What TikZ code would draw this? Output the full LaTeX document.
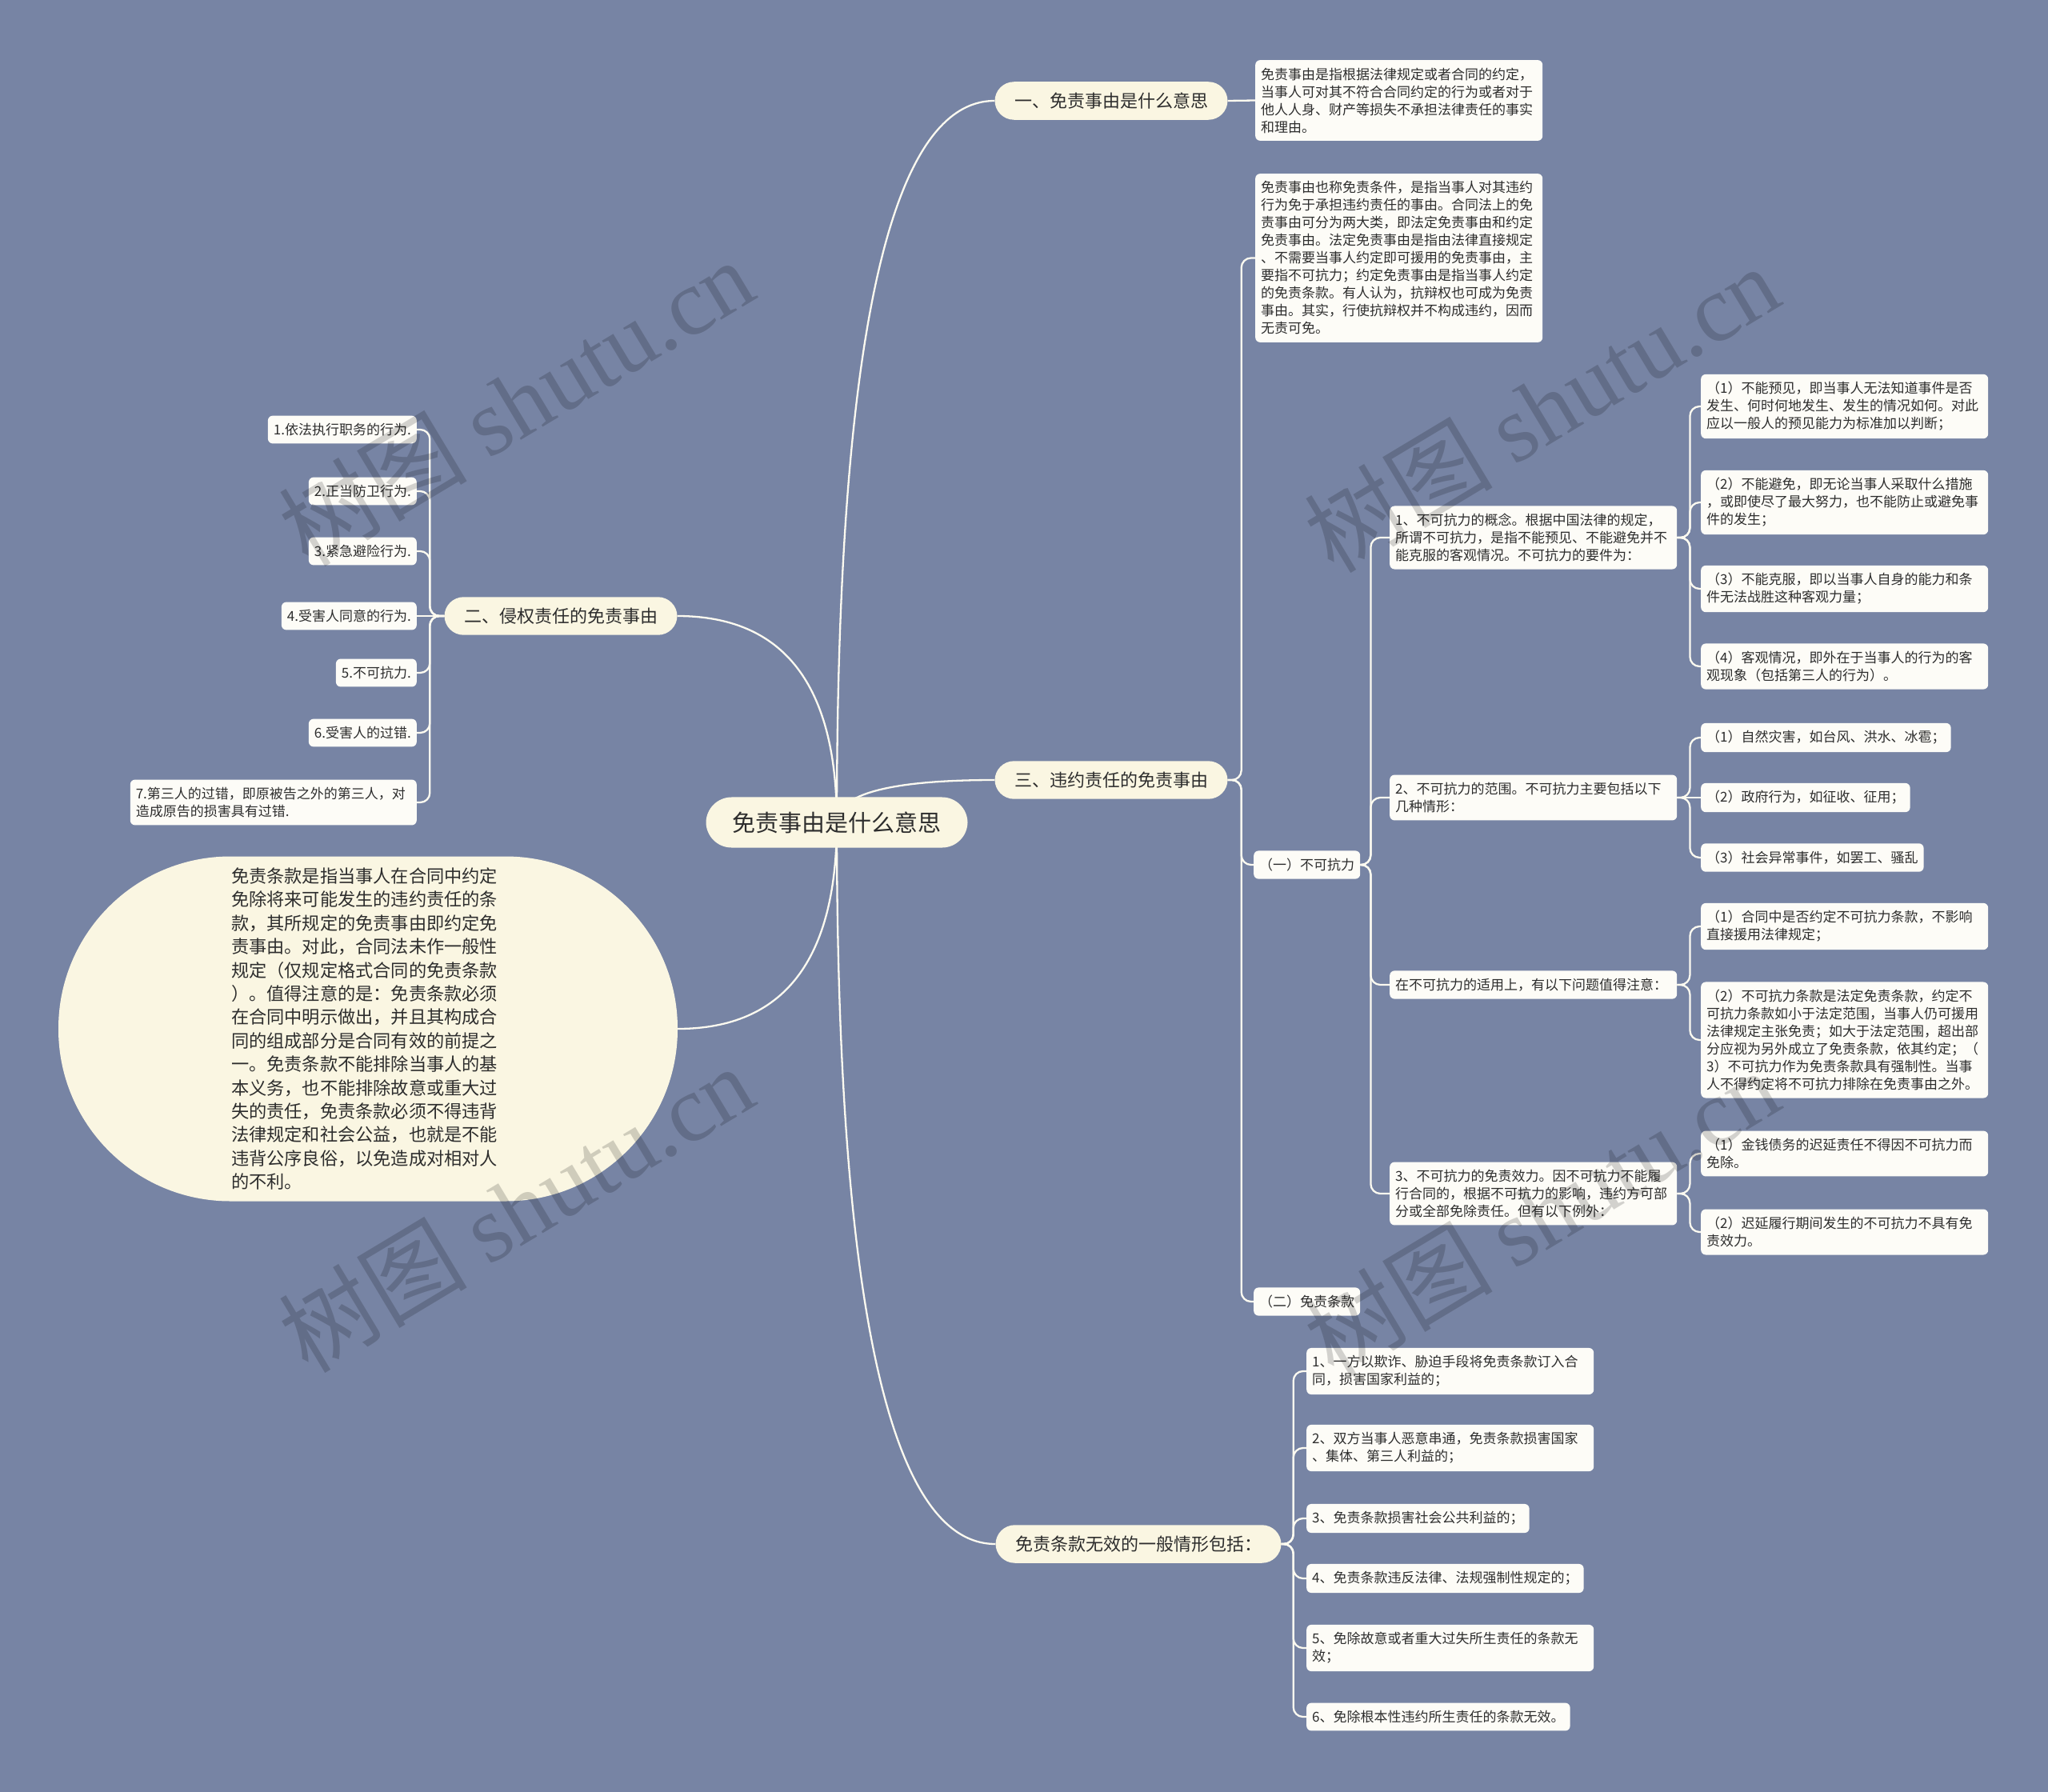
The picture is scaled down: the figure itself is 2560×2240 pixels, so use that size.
\documentclass[tikz,border=0pt]{standalone}
\usepackage{fontspec}
\setmainfont{Noto Sans CJK SC}
\newfontfamily\wmserif{Liberation Serif}
\usetikzlibrary{calc}
\pgfdeclarelayer{canvasbg}
\pgfdeclarelayer{links}
\pgfsetlayers{canvasbg,links,main}
\definecolor{bg}{RGB}{119,132,164}
\definecolor{cream}{RGB}{250,246,226}
\definecolor{leafc}{RGB}{253,252,247}
\definecolor{linec}{RGB}{252,250,240}
\definecolor{txt}{RGB}{45,45,45}
\begin{document}
\begin{tikzpicture}[x=1pt,y=-1pt,
  conn/.style={draw=linec, line width=2.3pt},
  tree/.style={conn, rounded corners=12pt},
  leaf/.style={fill=leafc, rounded corners=6pt, font=\fontsize{17pt}{22pt}\selectfont, text=txt,
    inner xsep=7pt, inner ysep=9.5pt, align=left, anchor=west},
  wide/.style={leaf, text width=345pt},
  lleaf/.style={leaf, anchor=east},
  mainn/.style={fill=cream, rounded corners=24pt, font=\fontsize{22pt}{26pt}\selectfont, text=txt,
    inner xsep=24.5pt, inner ysep=13.5pt},
  wmark/.style={rotate=31, text=black, opacity=0.17, font=\fontsize{118pt}{118pt}\selectfont}
]
\begin{pgfonlayer}{canvasbg}
\fill[bg] (0,0) rectangle (2560,2240);
\end{pgfonlayer}
\useasboundingbox (0,0) rectangle (2560,2240);

% ---------- main nodes ----------
\node[fill=cream, rounded corners=32pt, font=\fontsize{29pt}{34pt}\selectfont, text=txt,
  inner xsep=33pt, inner ysep=18pt] (c) at (1046,1028) {免责事由是什么意思};
\node[mainn] (g1) at (1389,126) {一、免责事由是什么意思};
\node[mainn] (g2) at (701,770) {二、侵权责任的免责事由};
\node[mainn] (g3) at (1389,975) {三、违约责任的免责事由};
\node[mainn] (g5) at (1423,1930) {免责条款无效的一般情形包括：};
\node[fill=cream, rounded corners=215pt, minimum width=774pt, minimum height=431pt,
  text width=342pt, align=left, text=txt, font=\fontsize{22.2pt}{29.4pt}\selectfont] (el) at (460,1286)
  {免责条款是指当事人在合同中约定\\免除将来可能发生的违约责任的条\\款，其所规定的免责事由即约定免\\责事由。对此，合同法未作一般性\\规定（仅规定格式合同的免责条款\\）。值得注意的是：免责条款必须\\在合同中明示做出，并且其构成合\\同的组成部分是合同有效的前提之\\一。免责条款不能排除当事人的基\\本义务，也不能排除故意或重大过\\失的责任，免责条款必须不得违背\\法律规定和社会公益，也就是不能\\违背公序良俗，以免造成对相对人\\的不利。};

% ---------- leaves ----------
\node[wide] (a1) at (1569,125.5) {免责事由是指根据法律规定或者合同的约定，\\当事人可对其不符合合同约定的行为或者对于\\他人人身、财产等损失不承担法律责任的事实\\和理由。};
\node[wide] (b1) at (1569,322.5) {免责事由也称免责条件，是指当事人对其违约\\行为免于承担违约责任的事由。合同法上的免\\责事由可分为两大类，即法定免责事由和约定\\免责事由。法定免责事由是指由法律直接规定\\、不需要当事人约定即可援用的免责事由，主\\要指不可抗力；约定免责事由是指当事人约定\\的免责条款。有人认为，抗辩权也可成为免责\\事由。其实，行使抗辩权并不构成违约，因而\\无责可免。};
\node[leaf] (f1) at (1567,1081) {（一）不可抗力};
\node[leaf] (f2) at (1567,1627) {（二）免责条款};

\node[wide] (h1) at (1737,672) {1、不可抗力的概念。根据中国法律的规定，\\所谓不可抗力，是指不能预见、不能避免并不\\能克服的客观情况。不可抗力的要件为：};
\node[wide] (h2) at (1737,997) {2、不可抗力的范围。不可抗力主要包括以下\\几种情形：};
\node[wide] (h3) at (1737,1231) {在不可抗力的适用上，有以下问题值得注意：};
\node[wide] (h4) at (1737,1492) {3、不可抗力的免责效力。因不可抗力不能履\\行合同的，根据不可抗力的影响，违约方可部\\分或全部免除责任。但有以下例外：};

\node[wide] (i1) at (2126,508) {（1）不能预见，即当事人无法知道事件是否\\发生、何时何地发生、发生的情况如何。对此\\应以一般人的预见能力为标准加以判断；};
\node[wide] (i2) at (2126,628) {（2）不能避免，即无论当事人采取什么措施\\，或即使尽了最大努力，也不能防止或避免事\\件的发生；};
\node[wide] (i3) at (2126,736) {（3）不能克服，即以当事人自身的能力和条\\件无法战胜这种客观力量；};
\node[wide] (i4) at (2126,833) {（4）客观情况，即外在于当事人的行为的客\\观现象（包括第三人的行为）。};

\node[leaf] (j1) at (2126,922) {（1）自然灾害，如台风、洪水、冰雹；};
\node[leaf] (j2) at (2126,997) {（2）政府行为，如征收、征用；};
\node[leaf] (j3) at (2126,1072) {（3）社会异常事件，如罢工、骚乱};

\node[wide] (k1) at (2126,1158) {（1）合同中是否约定不可抗力条款，不影响\\直接援用法律规定；};
\node[wide] (k2) at (2126,1300) {（2）不可抗力条款是法定免责条款，约定不\\可抗力条款如小于法定范围，当事人仍可援用\\法律规定主张免责；如大于法定范围，超出部\\分应视为另外成立了免责条款，依其约定；（\\3）不可抗力作为免责条款具有强制性。当事\\人不得约定将不可抗力排除在免责事由之外。};

\node[wide] (m1) at (2126,1442) {（1）金钱债务的迟延责任不得因不可抗力而\\免除。};
\node[wide] (m2) at (2126,1540) {（2）迟延履行期间发生的不可抗力不具有免\\责效力。};

\node[wide] (n1) at (1633,1714) {1、一方以欺诈、胁迫手段将免责条款订入合\\同，损害国家利益的；};
\node[wide] (n2) at (1633,1810) {2、双方当事人恶意串通，免责条款损害国家\\、集体、第三人利益的；};
\node[leaf] (n3) at (1633,1898) {3、免责条款损害社会公共利益的；};
\node[leaf] (n4) at (1633,1973) {4、免责条款违反法律、法规强制性规定的；};
\node[wide] (n5) at (1633,2060) {5、免除故意或者重大过失所生责任的条款无\\效；};
\node[leaf] (n6) at (1633,2146) {6、免除根本性违约所生责任的条款无效。};

\node[lleaf] (l1) at (521,537) {1.依法执行职务的行为.};
\node[lleaf] (l2) at (521,614) {2.正当防卫行为.};
\node[lleaf] (l3) at (521,689) {3.紧急避险行为.};
\node[lleaf] (l4) at (521,770) {4.受害人同意的行为.};
\node[lleaf] (l5) at (521,841) {5.不可抗力.};
\node[lleaf] (l6) at (521,916) {6.受害人的过错.};
\node[lleaf, text width=344pt] (l7) at (521,1003) {7.第三人的过错，即原被告之外的第三人，对\\造成原告的损害具有过错.};

% ---------- connectors (behind nodes) ----------
\begin{pgfonlayer}{links}
\foreach \t/\a in {g1/west, g3/west, g5/west, g2/east, el/east}{
  \draw[conn] (c.center) .. controls ($(c.center)!.667!(c.center|-\t.\a)$) and ($(\t.\a)!.667!(c.center|-\t.\a)$) .. (\t.\a);
}

\draw[conn] (g1.east) -- (a1.west);

\coordinate (s3) at ($(g3.east)+(17,0)$);
\draw[tree] (g3.east) -- (s3) |- (b1.west);
\draw[tree] (g3.east) -- (s3) |- (f1.west);
\draw[tree] (g3.east) -- (s3) |- (f2.west);

\coordinate (sf) at ($(f1.east)+(13,0)$);
\foreach \t in {h1,h2,h3,h4}{ \draw[tree] (f1.east) -- (sf) |- (\t.west); }

\coordinate (sh1) at ($(h1.east)+(16,0)$);
\foreach \t in {i1,i2,i3,i4}{ \draw[tree] (h1.east) -- (sh1) |- (\t.west); }
\coordinate (sh2) at ($(h2.east)+(16,0)$);
\draw[tree] (h2.east) -- (sh2) |- (j1.west);
\draw[conn] (h2.east) -- (j2.west);
\draw[tree] (h2.east) -- (sh2) |- (j3.west);
\coordinate (sh3) at ($(h3.east)+(16,0)$);
\foreach \t in {k1,k2}{ \draw[tree] (h3.east) -- (sh3) |- (\t.west); }
\coordinate (sh4) at ($(h4.east)+(16,0)$);
\foreach \t in {m1,m2}{ \draw[tree] (h4.east) -- (sh4) |- (\t.west); }

\coordinate (s5) at ($(g5.east)+(15,0)$);
\foreach \t in {n1,n2,n3,n4,n5,n6}{ \draw[tree] (g5.east) -- (s5) |- (\t.west); }

\coordinate (s2) at ($(g2.west)+(-18,0)$);
\foreach \t in {l1,l2,l3,l5,l6,l7}{ \draw[tree] (g2.west) -- (s2) |- (\t.east); }
\draw[conn] (g2.west) -- (l4.east);
\end{pgfonlayer}

% ---------- watermarks ----------
\node[wmark] (w1) at (645,502) {树图 {\wmserif shutu.cn}};
\node[wmark] (w2) at (1927,510) {树图 {\wmserif shutu.cn}};
\node[wmark] (w3) at (645,1510) {树图 {\wmserif shutu.cn}};
\node[wmark] (w4) at (1927,1515) {树图 {\wmserif shutu.cn}};
\end{tikzpicture}
\end{document}
